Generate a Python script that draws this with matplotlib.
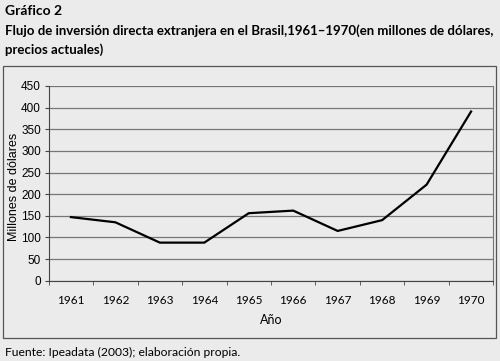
import numpy as np
import matplotlib.pyplot as plt
from matplotlib.patches import Rectangle

# datos
years = ['1961', '1962', '1963', '1964', '1965', '1966', '1967', '1968', '1969', '1970']
values = [147, 135, 88, 88, 156, 162, 115, 140, 222, 391]

bg = '#ebebeb'
plt.rcParams['font.family'] = ['Lato', 'DejaVu Sans']

fig = plt.figure(figsize=(5, 3.61), dpi=100, facecolor=bg)
W, H = 500, 361

# caja exterior del grafico
fig.patches.append(Rectangle((3 / W, 1 - 338 / H), 493 / W, 272 / H, transform=fig.transFigure,
                             fill=False, edgecolor='#555555', linewidth=0.9))

ax = fig.add_axes([48.7 / W, 1 - 280.7 / H, 444.6 / W, 194.7 / H])
ax.set_facecolor(bg)
x = np.arange(len(years))
ax.plot(x, values, color='black', linewidth=1.6)

ax.set_xlim(-0.5, len(years) - 0.5)
ax.set_ylim(0, 450)
ax.set_yticks(np.arange(0, 451, 50))
ax.set_xticks(x)
ax.set_xticklabels(years)
ax.set_xticks(np.arange(-0.5, len(years)), minor=True)
ax.tick_params(axis='x', which='major', length=0, pad=10, labelsize=8.5)
ax.tick_params(axis='x', which='minor', length=3, direction='out', color='#444444')
ax.tick_params(axis='y', length=3, direction='out', labelsize=8.5, pad=2.5, color='#444444')
for lab in ax.get_yticklabels():
    lab.set_family('Liberation Sans')
ax.grid(axis='y', color='#777777', linewidth=0.9)
ax.set_axisbelow(True)
for s in ['left', 'bottom']:
    ax.spines[s].set_color('#444444')
ax.spines['top'].set_visible(False)
ax.spines['right'].set_color('#777777')

ax.set_ylabel('Millones de dólares', fontsize=9, family='Liberation Sans')
ax.yaxis.set_label_coords(-0.064, 0.48)
ax.set_xlabel('Año', fontsize=9, labelpad=6)

fig.text(5 / W, 1 - 11 / H, 'Gráfico 2', fontsize=10, fontweight='bold', va='center')
fig.text(5 / W, 1 - 31 / H,
         'Flujo de inversión directa extranjera en el Brasil,1961–1970(en millones de dólares,',
         fontsize=9.5, fontweight='bold', va='center')
fig.text(5 / W, 1 - 50 / H, 'precios actuales)', fontsize=9.5, fontweight='bold', va='center')
fig.text(5 / W, 1 - 352 / H, 'Fuente: Ipeadata (2003); elaboración propia.', fontsize=8.7, va='center')

fig.savefig('out.png', dpi=100, facecolor=bg)
